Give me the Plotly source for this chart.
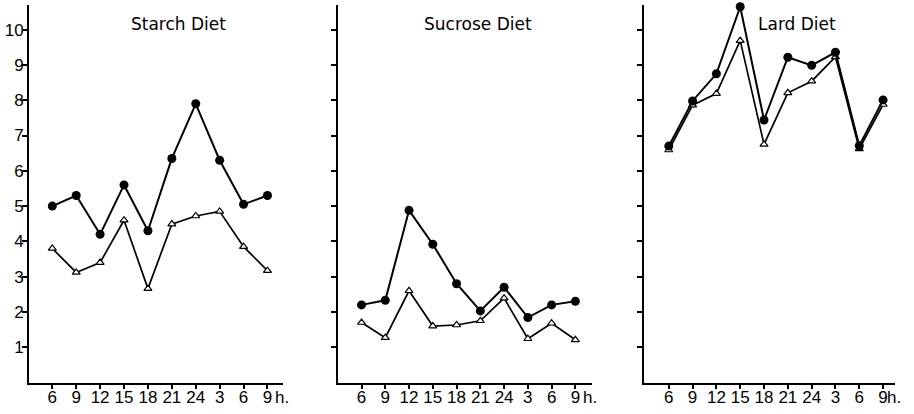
import plotly.graph_objects as go

hours = ["6", "9", "12", "15", "18", "21", "24", "3", "6", "9"]
panels = ["Starch Diet", "Sucrose Diet", "Lard Diet"]

starch_filled = [5.0, 5.3, 4.2, 5.6, 4.3, 6.35, 7.9, 6.3, 5.05, 5.3]
starch_open = [3.8, 3.12, 3.4, 4.6, 2.66, 4.49, 4.72, 4.85, 3.85, 3.17]
sucrose_filled = [2.2, 2.33, 4.88, 3.92, 2.8, 2.03, 2.7, 1.84, 2.2, 2.3]
sucrose_open = [1.7, 1.27, 2.6, 1.6, 1.63, 1.75, 2.39, 1.24, 1.68, 1.21]
lard_filled = [6.7, 7.98, 8.75, 10.65, 7.44, 9.22, 8.99, 9.36, 6.71, 8.01]
lard_open = [6.59, 7.86, 8.19, 9.69, 6.75, 8.21, 8.54, 9.23, 6.62, 7.88]

y_ticks = [1, 2, 3, 4, 5, 6, 7, 8, 9, 10]

series = [(starch_filled, starch_open), (sucrose_filled, sucrose_open), (lard_filled, lard_open)]
xdomains = [[29 / 914, 283 / 914], [338 / 914, 592 / 914], [644 / 914, 895 / 914]]
xranges = [[-0.975, 9.65], [-0.99, 9.7], [-1.04, 9.5]]
ydomain = [1 - 382.5 / 414, 1 - 5 / 414]
yrange = [0, 10.7]

FONT = "DejaVu Sans"
TICKFONT = "Liberation Sans Narrow, Liberation Sans, DejaVu Sans"
xs = list(range(len(hours)))

fig = go.Figure()
layout = dict(
    width=914, height=414,
    margin=dict(l=0, r=0, t=0, b=0, pad=0, autoexpand=False),
    paper_bgcolor="white", plot_bgcolor="white",
    showlegend=False,
    font=dict(family=FONT, size=15, color="black"),
    annotations=[],
)

for i, (filled, opened) in enumerate(series):
    n = "" if i == 0 else str(i + 1)
    xa, ya = "x" + n, "y" + n
    fig.add_trace(go.Scatter(
        x=xs, y=opened, xaxis=xa, yaxis=ya, mode="lines+markers",
        line=dict(color="black", width=1.7),
        marker=dict(symbol="triangle-up", size=7, color="white",
                    line=dict(color="black", width=1.2)),
        cliponaxis=False, hoverinfo="skip",
    ))
    fig.add_trace(go.Scatter(
        x=xs, y=filled, xaxis=xa, yaxis=ya, mode="lines+markers",
        line=dict(color="black", width=2),
        marker=dict(symbol="circle", size=9, color="black"),
        cliponaxis=False, hoverinfo="skip",
    ))
    layout["xaxis" + n] = dict(
        domain=xdomains[i], range=xranges[i], anchor=ya,
        tickvals=xs, ticktext=hours, ticks="outside", ticklen=4,
        tickwidth=2, tickcolor="black", showline=True, linecolor="black",
        linewidth=2, showgrid=False, zeroline=False, ticklabelstandoff=-6,
        tickfont=dict(family=TICKFONT, size=17, color="black"),
    )
    layout["yaxis" + n] = dict(
        domain=ydomain, range=yrange, anchor=xa,
        tickvals=y_ticks, ticks="outside", ticklen=5, tickwidth=2,
        tickcolor="black", showline=True, linecolor="black", linewidth=2,
        showgrid=False, zeroline=False, showticklabels=(i == 0),
        ticklabelstandoff=-5,
        tickfont=dict(family=TICKFONT, size=17, color="black"),
    )
    layout["annotations"].append(dict(
        text=panels[i], xref=xa + " domain", yref="paper",
        x=[0.59, 0.55, 0.61][i], y=1 - 24 / 414, showarrow=False,
        font=dict(family=FONT, size=17, color="black"),
        xanchor="center", yanchor="middle",
    ))
    layout["annotations"].append(dict(
        text="h.", xref=xa, yref="paper",
        x=9, xshift=[15, 15, 11][i], y=1 - 397 / 414, showarrow=False,
        font=dict(family=TICKFONT, size=17, color="black"),
        xanchor="center", yanchor="middle",
    ))

fig.update_layout(**layout)
fig.write_html("out.html", config={"displayModeBar": False, "staticPlot": True},
               post_script="document.body.style.margin='0';document.body.style.padding='0';")
